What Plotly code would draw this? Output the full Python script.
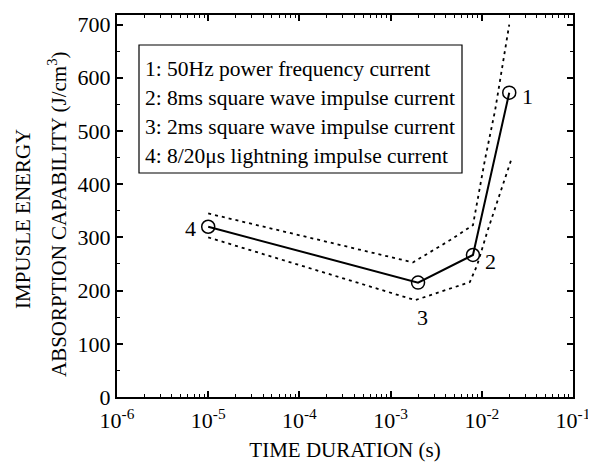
import math
import plotly.graph_objects as go

# Data
duration_s = [1e-5, 2e-3, 8e-3, 2e-2]
energy = [320, 215, 267, 572]
point_labels = ["4", "3", "2", "1"]

upper_x = [1e-5, 1.76e-3, 4.5e-3, 8.0e-3, 1.08e-2, 1.40e-2, 2.0e-2]
upper_y = [345, 253, 295, 323, 445, 539, 700]

lower_x = [1e-5, 1.86e-3, 7.4e-3, 8.9e-3, 1.16e-2, 2.13e-2]
lower_y = [300, 182, 216, 248, 313, 449]

legend_lines = [
    "1: 50Hz power frequency current",
    "2: 8ms square wave impulse current",
    "3: 2ms square wave impulse current",
    "4: 8/20\u03bcs lightning impulse current",
]

x_tick_exp = [-6, -5, -4, -3, -2, -1]
y_ticks = [0, 100, 200, 300, 400, 500, 600, 700]

FONT = "'Liberation Serif', 'Times New Roman', serif"
FS = 22
FS_LEG = 21.5
FS_T = 21

# page body has an 8px default margin: figure drawn from (8, 8)
OFF = 8
L, R, T, B = 117, 573, 15, 397          # plot area in window pixels
W, H = R - L, B - T

fig = go.Figure()

fig.add_trace(go.Scatter(x=upper_x, y=upper_y, mode="lines",
                         line=dict(color="black", width=1.8, dash="3px,4px"),
                         showlegend=False, hoverinfo="skip"))
fig.add_trace(go.Scatter(x=lower_x, y=lower_y, mode="lines",
                         line=dict(color="black", width=1.8, dash="3px,4px"),
                         showlegend=False, hoverinfo="skip"))
fig.add_trace(go.Scatter(x=duration_s, y=energy, mode="lines+markers",
                         line=dict(color="black", width=2),
                         marker=dict(symbol="circle-open", size=13, color="black",
                                     line=dict(width=1.5, color="black")),
                         showlegend=False))

# point labels
shifts = {"1": (18, -4), "2": (18, -7), "3": (4, -35), "4": (-18, -2)}
for xv, yv, lab in zip(duration_s, energy, point_labels):
    dx, dy = shifts[lab]
    fig.add_annotation(x=math.log10(xv), y=yv, text=lab, showarrow=False,
                       xshift=dx, yshift=dy,
                       font=dict(family=FONT, size=FS, color="black"))


def px(xp):
    return (xp - L) / W


def py(yp):
    return (B - yp) / H


fig.add_shape(type="rect", xref="paper", yref="paper",
              x0=px(139), x1=px(462), y0=py(173), y1=py(45),
              line=dict(color="black", width=1.2), fillcolor="white")
for i, txt in enumerate(legend_lines):
    fig.add_annotation(xref="paper", yref="paper", x=px(143), y=py(69 + i * 29),
                       xanchor="left", yanchor="middle", text=txt, showarrow=False,
                       font=dict(family=FONT, size=FS_LEG, color="black"))

# y title (two lines)
fig.add_annotation(xref="paper", yref="paper", x=px(23), y=py(219),
                   text="IMPUSLE ENERGY", textangle=-90, showarrow=False,
                   xanchor="center", yanchor="middle",
                   font=dict(family=FONT, size=FS_T, color="black"))
fig.add_annotation(xref="paper", yref="paper", x=px(57), y=py(215),
                   text="ABSORPTION CAPABILITY (J/cm<sup>3</sup>)", textangle=-90,
                   showarrow=False, xanchor="center", yanchor="middle",
                   font=dict(family=FONT, size=FS_T, color="black"))

minor_x = [k * 10.0 ** e for e in range(-6, -1) for k in range(2, 10)]

fig.update_xaxes(type="log", range=[-6, -1],
                 tickvals=[10.0 ** e for e in x_tick_exp],
                 ticktext=["10<sup>%d</sup>" % e for e in x_tick_exp],
                 ticks="inside", ticklen=6, tickwidth=1.5, tickcolor="black",
                 minor=dict(ticks="inside", ticklen=3, tickwidth=1.2, tickcolor="black",
                            tickvals=minor_x),
                 showline=True, linecolor="black", linewidth=2, mirror="ticks",
                 showgrid=False, zeroline=False,
                 tickfont=dict(family=FONT, size=FS, color="black"),
                 ticklabelstandoff=3,
                 title=dict(text="TIME DURATION (s)", standoff=10,
                            font=dict(family=FONT, size=FS_T, color="black")))
fig.update_yaxes(range=[0, 718], tickvals=y_ticks,
                 ticks="inside", ticklen=6, tickwidth=1.5, tickcolor="black",
                 minor=dict(ticks="inside", ticklen=3, tickwidth=1.2, tickcolor="black",
                            dtick=50),
                 showline=True, linecolor="black", linewidth=2, mirror="ticks",
                 showgrid=False, zeroline=False,
                 tickfont=dict(family=FONT, size=FS, color="black"))

fig.update_layout(width=596 - OFF, height=468 - OFF,
                  margin=dict(l=L - OFF, r=596 - R, t=T - OFF, b=468 - B, autoexpand=False),
                  paper_bgcolor="white", plot_bgcolor="white",
                  font=dict(family=FONT, size=FS, color="black"))

fig.write_html("out.html")
